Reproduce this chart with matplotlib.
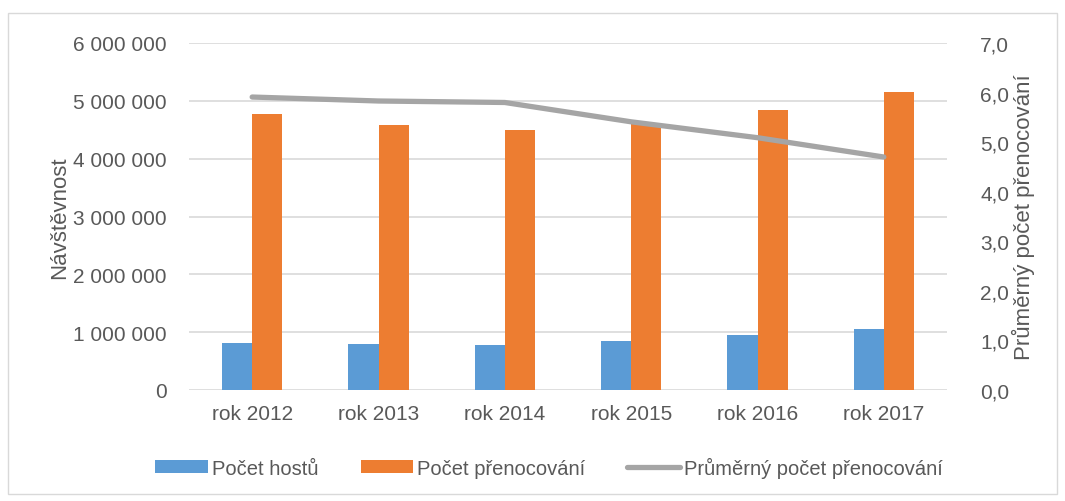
import numpy as np
import matplotlib.pyplot as plt
from matplotlib.patches import Rectangle
from matplotlib.ticker import FuncFormatter

plt.rcParams['font.family'] = ['Liberation Sans', 'DejaVu Sans']

roky = ['rok 2012', 'rok 2013', 'rok 2014', 'rok 2015', 'rok 2016', 'rok 2017']
hoste = [810000, 790000, 780000, 850000, 950000, 1060000]
prenocovani = [4780000, 4580000, 4500000, 4620000, 4840000, 5160000]
prumer = [5.91, 5.83, 5.80, 5.41, 5.09, 4.70]

modra = '#5B9BD5'
oranzova = '#ED7D31'
seda = '#A5A5A5'
text_c = '#595959'

fig = plt.figure(figsize=(10.65, 5.02), dpi=100)
fig.patches.append(Rectangle((8/1065, 1 - 495/502), 1049/1065, 481/502,
                             transform=fig.transFigure, fill=False,
                             edgecolor='#D9D9D9', linewidth=1))

ax = fig.add_axes([189/1065, 1 - 391/502, 758/1065, 347/502])
x = np.arange(len(roky))
w = 0.238
ax.bar(x - w/2, hoste, w, color=modra, label='Počet hostů', zorder=2)
ax.bar(x + w/2, prenocovani, w, color=oranzova, label='Počet přenocování', zorder=2)

ax.set_xlim(-0.5, len(roky) - 0.5)
ax.set_ylim(0, 6000000)
ax.set_yticks(np.arange(0, 6000001, 1000000))
ax.yaxis.set_major_formatter(FuncFormatter(lambda v, p: f'{int(v):,}'.replace(',', ' ')))
ax.set_xticks(x)
ax.set_xticklabels(roky)
ax.grid(axis='y', color='#D9D9D9', linewidth=1.2, zorder=0)
ax.set_axisbelow(True)
for s in ax.spines.values():
    s.set_visible(False)
ax.tick_params(length=0, labelsize=15, colors=text_c, pad=10)
ax.tick_params(axis='y', pad=16)
ax.set_ylabel('Návštěvnost', fontsize=16, color=text_c, labelpad=2)

ax2 = ax.twinx()
ax2.plot(x, prumer, color=seda, linewidth=3.8, solid_capstyle='round',
         label='Průměrný počet přenocování', zorder=3)
ax2.set_ylim(0, 7)
ax2.set_yticks(np.arange(0, 7.1, 1))
ax2.yaxis.set_major_formatter(FuncFormatter(lambda v, p: f'{v:.1f}'.replace('.', ',')))
for s in ax2.spines.values():
    s.set_visible(False)
ax2.tick_params(length=0, labelsize=15, colors=text_c, pad=24)
ax2.set_ylabel('Průměrný počet přenocování', fontsize=16, color=text_c, labelpad=2)

h1, l1 = ax.get_legend_handles_labels()
h2, l2 = ax2.get_legend_handles_labels()
fig.legend(h1 + h2, l1 + l2, loc='center', bbox_to_anchor=(549/1065, 1 - 468/502),
           ncol=3, frameon=False, fontsize=14.5, labelcolor=text_c,
           handlelength=2.6, handleheight=0.6, handletextpad=0.2, columnspacing=2.1)

plt.savefig('out.png', dpi=100)
